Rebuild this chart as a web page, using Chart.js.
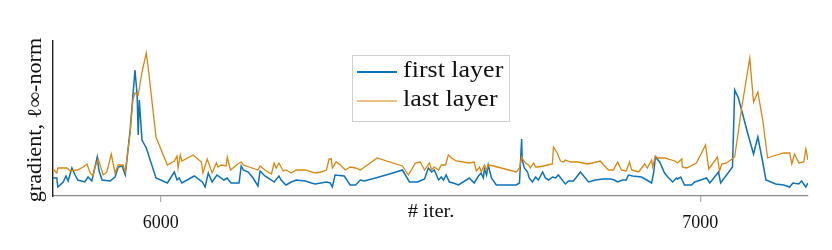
<!DOCTYPE html>
<html><head><meta charset="utf-8">
<script src="https://cdn.jsdelivr.net/npm/chart.js@4.4.1/dist/chart.umd.min.js"></script>
<style>html,body{margin:0;padding:0;background:#fff;}#wrap{width:832px;height:250px;}</style>
</head><body><div id="wrap"><canvas id="c" width="832" height="250"></canvas></div>
<script>
const seriesNames = ["first layer", "last layer"];
const xTickValues = [6000, 7000];
const xTickLabels = ["6000", "7000"];
const xTitle = "# iter.";
const yTitle = "gradient, \u2113\u221E-norm";

const firstIters = [5800,5807,5809,5819,5824,5828,5835,5841,5846,5859,5865,5872,5882,5885,5891,5906,5915,5921,5928,5934,5943,5952,5956,5958,5960,5965,5973,5991,6012,6025,6030,6034,6039,6062,6077,6082,6088,6095,6104,6117,6123,6130,6145,6149,6153,6162,6171,6180,6184,6193,6205,6210,6219,6223,6232,6242,6251,6268,6279,6286,6297,6307,6314,6318,6323,6340,6351,6361,6370,6377,6398,6424,6448,6461,6476,6489,6496,6502,6507,6515,6520,6524,6529,6535,6542,6552,6572,6581,6589,6594,6598,6600,6604,6607,6613,6622,6659,6665,6669,6670,6674,6680,6683,6689,6695,6700,6708,6713,6719,6726,6732,6737,6750,6756,6765,6778,6793,6806,6819,6834,6841,6847,6856,6863,6867,6875,6891,6901,6910,6914,6917,6925,6934,6940,6949,6956,6958,6964,6971,6984,6990,7001,7012,7018,7034,7038,7060,7064,7071,7088,7099,7107,7116,7122,7140,7155,7166,7172,7183,7188,7196,7200];
const firstGrad = [18,18,9,14,20,15,28,21,16,14,19,15,39,26,16,15,19,29,30,21,66,126,101,61,96,56,48,18,13,24,16,18,13,20,14,9,23,14,21,16,18,13,13,30,26,24,18,10,25,20,16,14,20,16,11,14,16,15,13,12,13,14,13,9,21,20,11,11,16,15,18,22,26,14,14,17,28,24,26,16,19,16,21,14,13,11,18,13,20,23,18,27,21,31,18,11,11,13,57,36,28,24,18,14,19,16,24,18,16,19,18,21,12,15,15,24,14,16,17,17,16,14,16,16,21,20,19,16,13,24,39,34,23,19,14,18,17,19,11,11,14,16,18,13,24,13,29,106,98,63,42,59,34,16,12,11,9,13,12,15,9,13];

const lastIters = [5800,5807,5809,5826,5832,5845,5856,5863,5869,5874,5878,5884,5893,5900,5908,5915,5921,5930,5934,5943,5948,5952,5958,5965,5973,5976,5991,6012,6025,6030,6032,6036,6039,6060,6075,6078,6086,6095,6103,6106,6112,6121,6123,6129,6145,6149,6153,6180,6184,6193,6205,6210,6214,6219,6227,6232,6242,6251,6268,6286,6297,6307,6312,6316,6318,6325,6333,6342,6351,6361,6370,6401,6448,6459,6472,6481,6489,6498,6502,6507,6515,6520,6528,6533,6539,6548,6572,6581,6585,6591,6594,6600,6604,6607,6617,6659,6665,6669,6672,6676,6682,6685,6691,6695,6700,6709,6717,6726,6728,6735,6741,6747,6750,6760,6774,6791,6800,6815,6821,6830,6839,6847,6854,6863,6869,6873,6886,6897,6902,6910,6912,6917,6921,6934,6953,6958,6966,6967,6975,6993,7010,7016,7032,7036,7040,7049,7064,7077,7092,7099,7107,7116,7125,7136,7155,7166,7170,7175,7183,7192,7196,7200];
const lastGrad = [27,23,28,28,25,26,29,32,23,20,29,37,21,24,42,23,31,31,24,63,96,103,101,124,143,131,59,31,35,40,28,41,35,41,34,23,37,23,33,29,31,30,39,26,33,34,31,26,30,26,22,33,28,33,25,26,23,26,26,23,24,26,37,37,28,34,31,26,29,28,26,38,30,21,33,34,26,33,26,29,26,31,31,41,38,35,33,34,25,29,24,31,26,31,30,24,28,39,36,33,31,28,33,29,29,30,31,32,49,43,35,34,36,34,34,32,33,35,31,26,26,34,26,25,34,26,24,32,28,36,29,40,38,38,35,33,37,29,28,33,51,27,39,25,32,33,39,88,138,94,104,76,38,40,43,43,32,42,33,34,47,36];

const blue = '#0b72bd';
const orange = '#dc860c';
const serif = '"Liberation Serif", "DejaVu Serif", serif';

function pts(xs, ys){ return xs.map((x,i)=>({x:x, y:ys[i]})); }

function stretchText(ctx, text, x, y, sx){
  ctx.save(); ctx.translate(x, y); ctx.scale(sx, 1); ctx.fillText(text, 0, 0); ctx.restore();
}

const overlay = {
  id:'overlay',
  afterDraw(chart){
    const ctx = chart.ctx;
    ctx.save();
    ctx.fillStyle = '#111';
    ctx.font = '20px ' + serif;
    ctx.textAlign = 'center'; ctx.textBaseline = 'middle';
    ctx.translate(36, 120); ctx.rotate(-Math.PI/2);
    stretchText(ctx, yTitle, 0, 0, 1.11);
    ctx.restore();
    ctx.save();
    ctx.fillStyle = '#111';
    ctx.font = '19px ' + serif;
    ctx.textAlign = 'center'; ctx.textBaseline = 'middle';
    stretchText(ctx, xTitle, 431, 212, 1.08);
    // legend
    const bx = 352, by = 55, bw = 157, bh = 66;
    ctx.fillStyle = '#fff'; ctx.fillRect(bx, by, bw, bh);
    ctx.strokeStyle = '#cfcfcf'; ctx.lineWidth = 1;
    ctx.strokeRect(bx+0.5, by+0.5, bw, bh);
    const rows = [[blue, 2.2, 72], [orange, 1.2, 101]];
    ctx.font = '23px ' + serif; ctx.textAlign = 'left'; ctx.textBaseline = 'middle';
    rows.forEach((r, i)=>{
      ctx.strokeStyle = r[0]; ctx.lineWidth = r[1];
      ctx.beginPath(); ctx.moveTo(357, r[2]); ctx.lineTo(397, r[2]); ctx.stroke();
      ctx.fillStyle = '#111';
      stretchText(ctx, seriesNames[i], 403, r[2]-1, 1.13);
    });
    ctx.restore();
  }
};

new Chart(document.getElementById('c'), {
  type:'line',
  data:{ datasets:[
    {label:seriesNames[0], data:pts(firstIters, firstGrad), borderColor:blue, borderWidth:1.5, pointRadius:0, tension:0, order:1, fill:false},
    {label:seriesNames[1], data:pts(lastIters, lastGrad), borderColor:orange, borderWidth:1.3, pointRadius:0, tension:0, order:0, fill:false}
  ]},
  options:{
    responsive:false, animation:false, devicePixelRatio:1,
    layout:{padding:{top:41, right:24, left:0, bottom:0}},
    plugins:{legend:{display:false}, tooltip:{enabled:false}},
    scales:{
      x:{type:'linear', min:5800, max:7200,
        afterBuildTicks(s){ s.ticks = xTickValues.map(v=>({value:v})); },
        afterFit(s){ s.height = 54; },
        ticks:{ callback:(v)=>{ const i = xTickValues.indexOf(v); return i>=0 ? xTickLabels[i] : ''; }, color:'#111', font:{family:serif, size:18}, padding:10, maxRotation:0 },
        grid:{ drawOnChartArea:false, drawTicks:true, tickLength:6, color:'#b0b0b0', lineWidth:1.2 },
        border:{ color:'#8a8a8a', width:1.2 }
      },
      y:{ min:0, max:155,
        afterFit(s){ s.width = 53; },
        ticks:{ display:false },
        grid:{ display:false, drawTicks:false },
        border:{ color:'#222', width:1.4 }
      }
    }
  },
  plugins:[overlay]
});
</script></body></html>
